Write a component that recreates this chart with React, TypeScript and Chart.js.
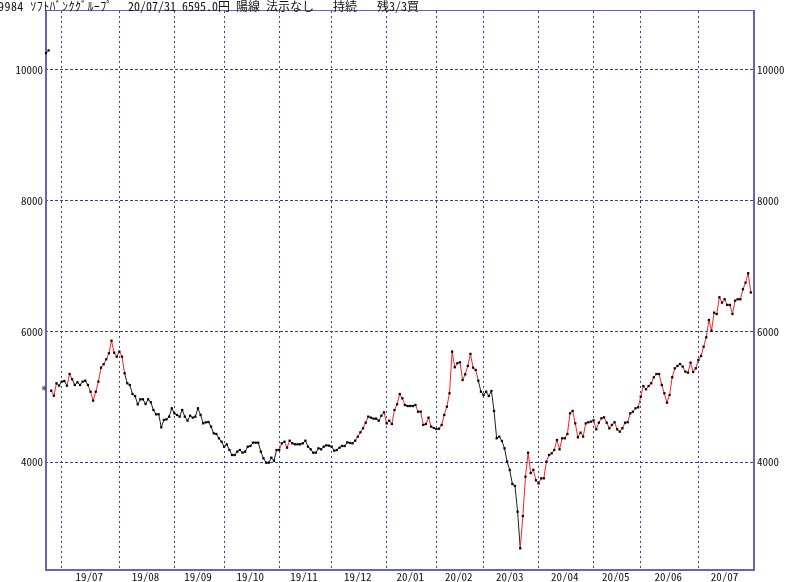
import React, { useEffect, useRef } from 'react';
import { Chart, registerables } from 'chart.js';

Chart.register(...registerables);

// ---- header texts ----
const headerCode = '9984 ｿﾌﾄﾊﾞﾝｸｸﾞﾙｰﾌﾟ';
const headerQuote = '20/07/31 6595.0円 陽線 法示なし';
const headerState = '持続';
const headerPosition = '残3/3買';

// ---- data (daily closes, yen) ----
// two unadjusted closes before the 1:2 split
const preSplitCloses = [10260, 10300];
// trading days shown before the first month gridline (19/07)
const leadTradingDays = 6;
// post-split closes, from the 3rd trading day shown to 20/07/31
const closes = [
  // late June 2019
  5092, 5015, 5205, 5168,
  // 19/07
  5230, 5240, 5168, 5347, 5266, 5179, 5220, 5179, 5230, 5245, 5179, 5076, 4939, 5076, 5230, 5444, 5496, 5572, 5664, 5857, 5673, 5612,
  // 19/08
  5689, 5612, 5358, 5205, 5179, 5041, 5010, 4883, 4960, 4960, 4888, 4960, 4914, 4796, 4730, 4730, 4531, 4643, 4653, 4694, 4822,
  // 19/09
  4745, 4720, 4694, 4796, 4694, 4633, 4709, 4679, 4694, 4822, 4720, 4592, 4607, 4612, 4541, 4439, 4429, 4363, 4311,
  // 19/10
  4234, 4270, 4184, 4107, 4107, 4158, 4184, 4143, 4158, 4234, 4245, 4296, 4296, 4296, 4158, 4056, 3990, 3990, 4066, 4020, 4184,
  // 19/11
  4184, 4286, 4311, 4219, 4326, 4286, 4271, 4271, 4271, 4286, 4326, 4235, 4194, 4143, 4143, 4209, 4194, 4235, 4255, 4250,
  // 19/12
  4235, 4173, 4184, 4219, 4245, 4245, 4301, 4291, 4286, 4326, 4388, 4454, 4516, 4602, 4694, 4679, 4664, 4664, 4633, 4709, 4760,
  // 20/01
  4592, 4633, 4582, 4796, 4883, 5041, 4975, 4873, 4857, 4857, 4857, 4873, 4770, 4770, 4567, 4582, 4679, 4541, 4521,
  // 20/02
  4505, 4510, 4567, 4720, 4847, 5052, 5689, 5450, 5511, 5526, 5255, 5342, 5470, 5654, 5444, 5409, 5245, 5076,
  // 20/03
  5026, 5076, 5010, 5087, 4781, 4363, 4388, 4322, 4209, 4005, 3878, 3663, 3633, 3239, 2679, 3173, 3775, 4143, 3830, 3880, 3720,
  // 20/04
  3673, 3750, 3750, 4005, 4107, 4133, 4184, 4337, 4194, 4363, 4363, 4429, 4745, 4781, 4592, 4378, 4449, 4388, 4592, 4608, 4618,
  // 20/05
  4638, 4500, 4602, 4669, 4684, 4602, 4516, 4567, 4608, 4500, 4464, 4516, 4602, 4608, 4745, 4770, 4822, 4837,
  // 20/06
  5000, 5163, 5113, 5163, 5205, 5297, 5347, 5347, 5179, 5052, 4908, 5026, 5297, 5434, 5470, 5500, 5460, 5383, 5368, 5520, 5378, 5434,
  // 20/07
  5562, 5623, 5765, 5909, 6174, 6010, 6286, 6265, 6521, 6439, 6491, 6404, 6404, 6266, 6470, 6491, 6491, 6644, 6745, 6889, 6595,
];
const monthLabels = ['19/07', '19/08', '19/09', '19/10', '19/11', '19/12', '20/01', '20/02', '20/03', '20/04', '20/05', '20/06', '20/07'];
const monthTradingDays = [22, 21, 19, 21, 20, 21, 19, 18, 21, 21, 18, 22, 21];
const yTickValues = [4000, 6000, 8000, 10000];
// price of the position marker at the left edge
const signalMarkPrice = 5130;
// trading-day index ranges [from, to) where the trend state is "up" (drawn red)
const upTrendSpans: [number, number][] = [
  [0, 1], [2, 4], [8, 10], [16, 30], [88, 93], [118, 123], [127, 137], [141, 165], [181, 269],
];

// ---- derived ----
const monthStarts: number[] = [];
const monthMids: number[] = [];
{
  let s = leadTradingDays;
  monthTradingDays.forEach((d) => {
    monthStarts.push(s);
    monthMids.push(s + (d - 1) / 2);
    s += d;
  });
}
const preSplitPoints = preSplitCloses.map((v, i) => ({ x: i, y: v }));
const closePoints = closes.map((v, i) => ({ x: i + preSplitCloses.length, y: v }));
const lastIndex = preSplitCloses.length + closes.length - 1;
const X_MIN = -0.38;
const X_MAX = lastIndex + 1.6;
const Y_MIN = 2347;
const Y_MAX = 10903;

const isUp = (i: number) => upTrendSpans.some(([a, b]) => i >= a && i < b);

const RED = '#ff2020';
const DARK = '#202020';
const GRID = '#3a3aa2';
const FRAME = '#6464be';
const FONT = '"Noto Sans Mono CJK JP", "Noto Sans CJK JP", sans-serif';

const framePlugin = {
  id: 'frame',
  beforeDatasetsDraw(chart: any) {
    const { ctx, chartArea: a } = chart;
    ctx.save();
    ctx.fillStyle = FRAME;
    ctx.fillRect(a.left, a.top - 1, a.right - a.left, 1);
    ctx.fillRect(a.left, a.bottom - 1, a.right - a.left, 2);
    ctx.fillRect(a.left, a.top - 1, 2, a.bottom - a.top + 2);
    ctx.fillRect(a.right - 2, a.top - 1, 2, a.bottom - a.top + 2);
    ctx.restore();
  },
};

export default function App() {
  const ref = useRef<HTMLCanvasElement | null>(null);

  useEffect(() => {
    document.body.style.margin = '0';
    const canvas = ref.current;
    if (!canvas) return;
    const chart = new Chart(canvas, {
      type: 'line',
      data: {
        datasets: [
          {
            data: preSplitPoints,
            borderColor: RED,
            borderWidth: 1,
            pointStyle: 'rect',
            pointRadius: 1.6,
            pointBackgroundColor: '#000',
            pointBorderWidth: 0,
            tension: 0,
            clip: false as any,
          },
          {
            data: closePoints,
            borderColor: DARK,
            borderWidth: 1,
            pointStyle: 'rect',
            pointRadius: 1.6,
            pointBackgroundColor: '#000',
            pointBorderWidth: 0,
            tension: 0,
            segment: {
              borderColor: (c: any) => (isUp(c.p0.parsed.x) ? RED : DARK),
            },
          },
          {
            data: [{ x: X_MIN - 0.3, y: signalMarkPrice }],
            showLine: false,
            pointStyle: 'star',
            pointRadius: 2.5,
            pointBorderColor: '#555',
            pointBorderWidth: 1,
            clip: false as any,
          },
        ],
      },
      options: {
        animation: false,
        responsive: false,
        devicePixelRatio: 1,
        layout: { padding: { top: 11, left: 0, right: 0, bottom: 0 } },
        plugins: { legend: { display: false }, tooltip: { enabled: false }, title: { display: false } },
        scales: {
          x: {
            type: 'linear',
            position: 'bottom',
            min: X_MIN,
            max: X_MAX,
            afterBuildTicks: (s: any) => {
              s.ticks = monthStarts.map((v) => ({ value: v }));
            },
            afterFit: (s: any) => {
              s.height = 0;
            },
            ticks: { display: false },
            grid: { color: GRID, lineWidth: 1, drawTicks: false },
            border: { display: false, dash: [2, 3] },
          },
          x2: {
            type: 'linear',
            position: 'bottom',
            min: X_MIN,
            max: X_MAX,
            afterBuildTicks: (s: any) => {
              s.ticks = monthMids.map((v) => ({ value: v }));
            },
            afterFit: (s: any) => {
              s.height = 12;
            },
            ticks: {
              autoSkip: false,
              maxRotation: 0,
              padding: 0,
              color: '#111',
              font: { family: FONT, size: 11 },
              callback: (_v: any, i: number) => monthLabels[i],
            },
            grid: { display: false, drawTicks: false },
            border: { display: false },
          },
          y: {
            type: 'linear',
            position: 'left',
            min: Y_MIN,
            max: Y_MAX,
            afterBuildTicks: (s: any) => {
              s.ticks = yTickValues.map((v) => ({ value: v }));
            },
            afterFit: (s: any) => {
              s.width = 45;
            },
            ticks: {
              padding: 2,
              color: '#111',
              font: { family: FONT, size: 11 },
              callback: (v: any) => String(v),
            },
            grid: { color: GRID, lineWidth: 1, drawTicks: false },
            border: { display: false, dash: [3, 2] },
          },
          y2: {
            type: 'linear',
            position: 'right',
            min: Y_MIN,
            max: Y_MAX,
            afterBuildTicks: (s: any) => {
              s.ticks = yTickValues.map((v) => ({ value: v }));
            },
            afterFit: (s: any) => {
              s.width = 45;
            },
            ticks: {
              padding: 2,
              color: '#111',
              font: { family: FONT, size: 11 },
              callback: (v: any) => String(v),
            },
            grid: { display: false, drawTicks: false },
            border: { display: false },
          },
        },
      },
      plugins: [framePlugin],
    } as any);
    return () => chart.destroy();
  }, []);

  const headStyle: React.CSSProperties = {
    position: 'absolute',
    top: -1,
    fontFamily: FONT,
    fontSize: 12,
    lineHeight: '14px',
    color: '#111',
    whiteSpace: 'pre',
  };

  return (
    <div style={{ position: 'relative', width: 800, height: 582, background: '#fff' }}>
      <canvas ref={ref} width={800} height={582} style={{ display: 'block' }} />
      <span style={{ ...headStyle, left: -2, letterSpacing: '0.45px' }}>{headerCode}</span>
      <span style={{ ...headStyle, left: 128 }}>{headerQuote}</span>
      <span style={{ ...headStyle, left: 333 }}>{headerState}</span>
      <span style={{ ...headStyle, left: 377 }}>{headerPosition}</span>
    </div>
  );
}
